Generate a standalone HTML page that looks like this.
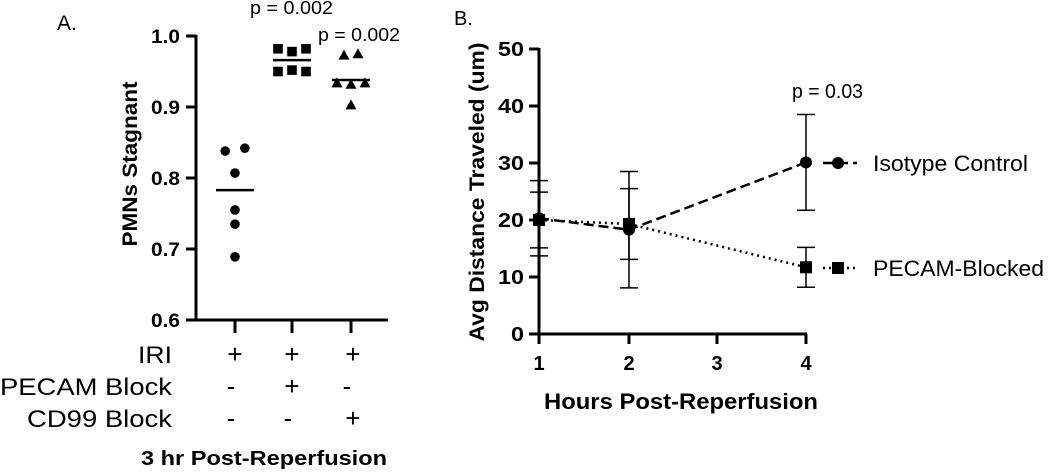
<!DOCTYPE html>
<html><head><meta charset="utf-8"><style>
html,body{margin:0;padding:0;background:#fff;}
svg{display:block;font-family:"Liberation Sans",Arial,sans-serif;}
</style></head><body>
<svg id="fig" width="1050" height="472" viewBox="0 0 1050 472"></svg>
<script>
// Panel A data
const groupsA = ["IRI only", "PECAM Block", "CD99 Block"];
const valuesA = [
  [0.838, 0.842, 0.807, 0.755, 0.735, 0.689],
  [0.982, 0.978, 0.982, 0.950, 0.952, 0.950],
  [0.973, 0.975, 0.934, 0.932, 0.934, 0.903]
];
const jitterA = [[-0.7,0.7,0,0,0,0],[-1,0,1,-1,0,1],[-0.5,0.5,-1,0,1,0]];
const meansA = [0.783, 0.966, 0.938];
const ticksA = [0.6, 0.7, 0.8, 0.9, 1.0];
const rowIRI = ["+", "+", "+"];
const rowPECAM = ["-", "+", "-"];
const rowCD99 = ["-", "-", "+"];
const pA = ["p = 0.002", "p = 0.002"];
// Panel B data
const hoursB = [1, 2, 4];
const isoMean = [20.3, 18.3, 30.1];
const isoErr = [6.6, 10.2, 8.4];
const pecMean = [20.0, 19.3, 11.7];
const pecErr = [4.9, 6.2, 3.5];
const ticksBy = [0, 10, 20, 30, 40, 50];
const ticksBx = [1, 2, 3, 4];

const svg = document.getElementById('fig');
const NS = 'http://www.w3.org/2000/svg';
function mk(tag, attrs, parent, text) {
  const e = document.createElementNS(NS, tag);
  for (const k in attrs) e.setAttribute(k, attrs[k]);
  if (text !== undefined) e.textContent = text;
  (parent || svg).appendChild(e);
  return e;
}
function fit(e, len) { e.setAttribute('textLength', len); e.setAttribute('lengthAdjust', 'spacingAndGlyphs'); return e; }

// ---------- Panel A ----------
const yA = v => 320 - (v - 0.6) / 0.4 * 284;
const xA = i => [235, 292, 351][i];
let t;
t = mk('text', {x: 57, y: 30, 'font-size': 21}, svg, 'A.');
 
let g = mk('g', {});
 
mk('line', {x1: 196, y1: yA(1.0) - 1, x2: 196, y2: 321, stroke: '#000', 'stroke-width': 3}, g);
ticksA.forEach(v => {
  mk('line', {x1: 186, y1: yA(v), x2: 196, y2: yA(v), stroke: '#000', 'stroke-width': 3}, g);
  const tl = mk('text', {x: 180, y: yA(v) + 7, 'font-size': 19, 'font-weight': 'bold', 'text-anchor': 'end'}, g, v.toFixed(1));
  fit(tl, 29);
   
});
t = mk('text', {x: 0, y: 0, 'font-size': 21, 'font-weight': 'bold', 'text-anchor': 'middle', transform: 'translate(137,164) rotate(-90)'}, svg, 'PMNs Stagnant');
fit(t, 165);
 
g = mk('g', {});
 
mk('line', {x1: 196, y1: 320, x2: 388, y2: 320, stroke: '#000', 'stroke-width': 3}, g);
groupsA.forEach((n, i) => mk('line', {x1: xA(i), y1: 320, x2: xA(i), y2: 333, stroke: '#000', 'stroke-width': 3}, g));

valuesA.forEach((vals, i) => {
  const gg = mk('g', {});
   
  vals.forEach((v, j) => {
    const cx = xA(i) + jitterA[i][j] * 14, cy = yA(v);
    let m;
    if (i === 0) m = mk('circle', {cx: cx, cy: cy, r: 4.8, fill: '#000'}, gg);
    else if (i === 1) m = mk('rect', {x: cx - 4.8, y: cy - 4.8, width: 9.6, height: 9.6, fill: '#000'}, gg);
    else m = mk('polygon', {points: `${cx},${cy - 5.5} ${cx - 5.5},${cy + 4.5} ${cx + 5.5},${cy + 4.5}`, fill: '#000'}, gg);
     
  });
  const ml = mk('line', {x1: xA(i) - 19, y1: yA(meansA[i]), x2: xA(i) + 19, y2: yA(meansA[i]), stroke: '#000', 'stroke-width': 2.5}, gg);
   
});
t = mk('text', {x: 250, y: 14, 'font-size': 18}, svg, pA[0]);
fit(t, 83);
 
t = mk('text', {x: 318, y: 41, 'font-size': 18}, svg, pA[1]);
fit(t, 82);
 

const rows = [["IRI", rowIRI, 363, 'row-iri', 34], ["PECAM Block", rowPECAM, 395, 'row-pecam-block', 172], ["CD99 Block", rowCD99, 427, 'row-cd99-block', 145]];
rows.forEach(r => {
  const rg = mk('g', {});
   
  fit(mk('text', {x: 172, y: r[2], 'font-size': 24, 'text-anchor': 'end'}, rg, r[0]), r[4]);
  r[1].forEach((s, i) => mk('text', {x: xA(i) + (s === '-' ? -4 : 0) + (i === 2 && s === '+' ? 2 : 0), y: r[2], 'font-size': 26, 'text-anchor': 'middle'}, rg, s));
});
t = mk('text', {x: 141, y: 465, 'font-size': 20, 'font-weight': 'bold'}, svg, '3 hr Post-Reperfusion');
fit(t, 246);
 

// ---------- Panel B ----------
const yB = v => 334 - v / 50 * 285;
const xB = h => ({1: 539, 2: 629, 3: 717, 4: 806})[h];
t = mk('text', {x: 454, y: 25, 'font-size': 20}, svg, 'B.');
 
g = mk('g', {});
 
mk('line', {x1: 539, y1: yB(50) - 1, x2: 539, y2: 336, stroke: '#000', 'stroke-width': 3}, g);
ticksBy.forEach(v => {
  mk('line', {x1: 529, y1: yB(v), x2: 539, y2: yB(v), stroke: '#000', 'stroke-width': 3}, g);
  const tl = mk('text', {x: 524, y: yB(v) + 7, 'font-size': 20, 'font-weight': 'bold', 'text-anchor': 'end'}, g, String(v));
  fit(tl, String(v).length * 13);
   
});
g = mk('g', {});
 
mk('line', {x1: 538, y1: 334, x2: 807, y2: 334, stroke: '#000', 'stroke-width': 3}, g);
ticksBx.forEach(h => {
  mk('line', {x1: xB(h), y1: 334, x2: xB(h), y2: 344, stroke: '#000', 'stroke-width': 3}, g);
  const tl = mk('text', {x: xB(h), y: 370, 'font-size': 20, 'font-weight': 'bold', 'text-anchor': 'middle'}, g, String(h));
   
});
t = mk('text', {x: 0, y: 0, 'font-size': 21, 'font-weight': 'bold', 'text-anchor': 'middle', transform: 'translate(484,192) rotate(-90)'}, svg, 'Avg Distance Traveled (um)');
fit(t, 299);
 
t = mk('text', {x: 544, y: 409, 'font-size': 22, 'font-weight': 'bold'}, svg, 'Hours Post-Reperfusion');
fit(t, 274);
 

function series(name, means, errs, dash, marker) {
  const sg = mk('g', {});
   
  hoursB.forEach((h, i) => {
    const x = xB(h), hi = yB(means[i] + errs[i]), lo = yB(means[i] - errs[i]);
    mk('line', {x1: x, y1: hi, x2: x, y2: lo, stroke: '#000', 'stroke-width': 1.5}, sg);
    mk('line', {x1: x - 9, y1: hi, x2: x + 9, y2: hi, stroke: '#000', 'stroke-width': 1.5}, sg);
    mk('line', {x1: x - 9, y1: lo, x2: x + 9, y2: lo, stroke: '#000', 'stroke-width': 1.5}, sg);
  });
  const pts = hoursB.map((h, i) => xB(h) + ',' + yB(means[i])).join(' ');
  mk('polyline', {points: pts, fill: 'none', stroke: '#000', 'stroke-width': 2.5, 'stroke-dasharray': dash}, sg);
  hoursB.forEach((h, i) => {
    const x = xB(h), y = yB(means[i]);
    let m;
    if (marker === 'circle') m = mk('circle', {cx: x, cy: y, r: 6, fill: '#000'}, sg);
    else m = mk('rect', {x: x - 6, y: y - 6, width: 12, height: 12, fill: '#000'}, sg);
     
  });
}
series('series-pecam-blocked', pecMean, pecErr, '2 4', 'square');
series('series-isotype-control', isoMean, isoErr, '10 5', 'circle');

t = mk('text', {x: 792, y: 98, 'font-size': 20}, svg, 'p = 0.03');
fit(t, 71);
 

let lg = mk('g', {});
 
mk('line', {x1: 823, y1: 163, x2: 857, y2: 163, stroke: '#000', 'stroke-width': 2.5, 'stroke-dasharray': '10 5'}, lg);
mk('circle', {cx: 838, cy: 163, r: 6, fill: '#000'}, lg);
fit(mk('text', {x: 873, y: 171, 'font-size': 22}, lg, 'Isotype Control'), 155);
lg = mk('g', {});
 
mk('line', {x1: 823, y1: 268, x2: 857, y2: 268, stroke: '#000', 'stroke-width': 2.5, 'stroke-dasharray': '2 4'}, lg);
mk('rect', {x: 832, y: 262, width: 12, height: 12, fill: '#000'}, lg);
fit(mk('text', {x: 873, y: 276, 'font-size': 22}, lg, 'PECAM-Blocked'), 171);
</script>
</body></html>
